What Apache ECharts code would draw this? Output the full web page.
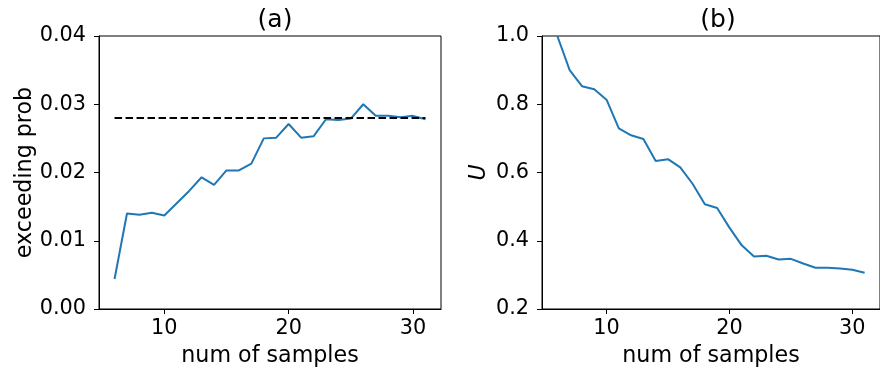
<!DOCTYPE html>
<html>
<head>
<meta charset="utf-8">
<script src="https://cdn.jsdelivr.net/npm/echarts@6/dist/echarts.min.js"></script>
<style>
html,body{margin:0;padding:0;background:#fff;}
#chart{width:880px;height:373px;}
</style>
</head>
<body>
<div id="chart"></div>
<script>
const numSamples = [6,7,8,9,10,11,12,13,14,15,16,17,18,19,20,21,22,23,24,25,26,27,28,29,30,31];
const exceedingProb = [0.0044,0.0140,0.0138,0.0141,0.0137,0.0155,0.0173,0.0193,0.0182,0.0203,0.0203,0.0213,0.0250,0.0251,0.0271,0.0251,0.0253,0.0278,0.0277,0.0279,0.0300,0.0283,0.0283,0.0281,0.0283,0.0278];
const targetProb = 0.028;
const uValues = [1.0,0.900,0.853,0.844,0.8135,0.729,0.709,0.698,0.634,0.639,0.615,0.567,0.507,0.496,0.4385,0.3865,0.354,0.356,0.345,0.347,0.3335,0.3207,0.3207,0.319,0.315,0.306];
const xTicks = [10,20,30];
const titles = ['(a)','(b)'];

const font = 'DejaVu Sans';
const tickFs = 20.8;
const labelFs = 22.2;
const titleFs = 25;
const chart = echarts.init(document.getElementById('chart'), null, {renderer:'canvas'});

function xAxis(gi){
  return {
    type:'value', gridIndex:gi, min:4.75, max:32.25,
    name:'num of samples', nameLocation:'middle', nameGap:36,
    nameTextStyle:{fontFamily:font, fontSize:labelFs, color:'#000'},
    axisLine:{show:true, lineStyle:{color:'#000', width:1}},
    axisTick:{show:true, length:5, customValues:xTicks, lineStyle:{color:'#000', width:1}},
    axisLabel:{customValues:xTicks, fontFamily:font, fontSize:tickFs, color:'#000', margin:9},
    splitLine:{show:false}
  };
}

const option = {
  animation:false,
  backgroundColor:'#fff',
  title:[
    {text:titles[0], left:270, top:3, textAlign:'center', textStyle:{fontFamily:font, fontSize:titleFs, fontWeight:'normal', color:'#000'}},
    {text:titles[1], left:713, top:3, textAlign:'center', textStyle:{fontFamily:font, fontSize:titleFs, fontWeight:'normal', color:'#000'}}
  ],
  grid:[
    {left:99, top:36, width:342, height:273, show:true, borderColor:'#000', borderWidth:1, backgroundColor:'transparent'},
    {left:542, top:36, width:342, height:273, show:true, borderColor:'#000', borderWidth:1, backgroundColor:'transparent'}
  ],
  xAxis:[xAxis(0), xAxis(1)],
  yAxis:[
    {type:'value', gridIndex:0, min:0, max:0.04, interval:0.01,
     name:'exceeding prob', nameLocation:'middle', nameGap:62, nameRotate:90,
     nameTextStyle:{fontFamily:font, fontSize:labelFs, color:'#000'},
     axisLine:{show:true, lineStyle:{color:'#000', width:1}},
     axisTick:{show:true, length:5, lineStyle:{color:'#000', width:1}},
     axisLabel:{fontFamily:font, fontSize:tickFs, color:'#000', margin:13, formatter:v=>v.toFixed(2)},
     splitLine:{show:false}},
    {type:'value', gridIndex:1, min:0.2, max:1.0, interval:0.2,
     name:'U', nameLocation:'middle', nameGap:52, nameRotate:90,
     nameTextStyle:{fontFamily:font, fontSize:labelFs, fontStyle:'italic', color:'#000'},
     axisLine:{show:true, lineStyle:{color:'#000', width:1}},
     axisTick:{show:true, length:5, lineStyle:{color:'#000', width:1}},
     axisLabel:{fontFamily:font, fontSize:tickFs, color:'#000', margin:13, formatter:v=>v.toFixed(1)},
     splitLine:{show:false}}
  ],
  series:[
    {type:'line', xAxisIndex:0, yAxisIndex:0, data:numSamples.map((x,i)=>[x,exceedingProb[i]]),
     showSymbol:false, lineStyle:{color:'#1f77b4', width:2}, z:3},
    {type:'line', xAxisIndex:0, yAxisIndex:0, data:[[numSamples[0],targetProb],[numSamples[numSamples.length-1],targetProb]],
     showSymbol:false, lineStyle:{color:'#000', width:2, type:[7.5,3.5]}, z:4},
    {type:'line', xAxisIndex:1, yAxisIndex:1, data:numSamples.map((x,i)=>[x,uValues[i]]),
     showSymbol:false, lineStyle:{color:'#1f77b4', width:2}, clip:true, z:3}
  ]
};
chart.setOption(option);
</script>
</body>
</html>
